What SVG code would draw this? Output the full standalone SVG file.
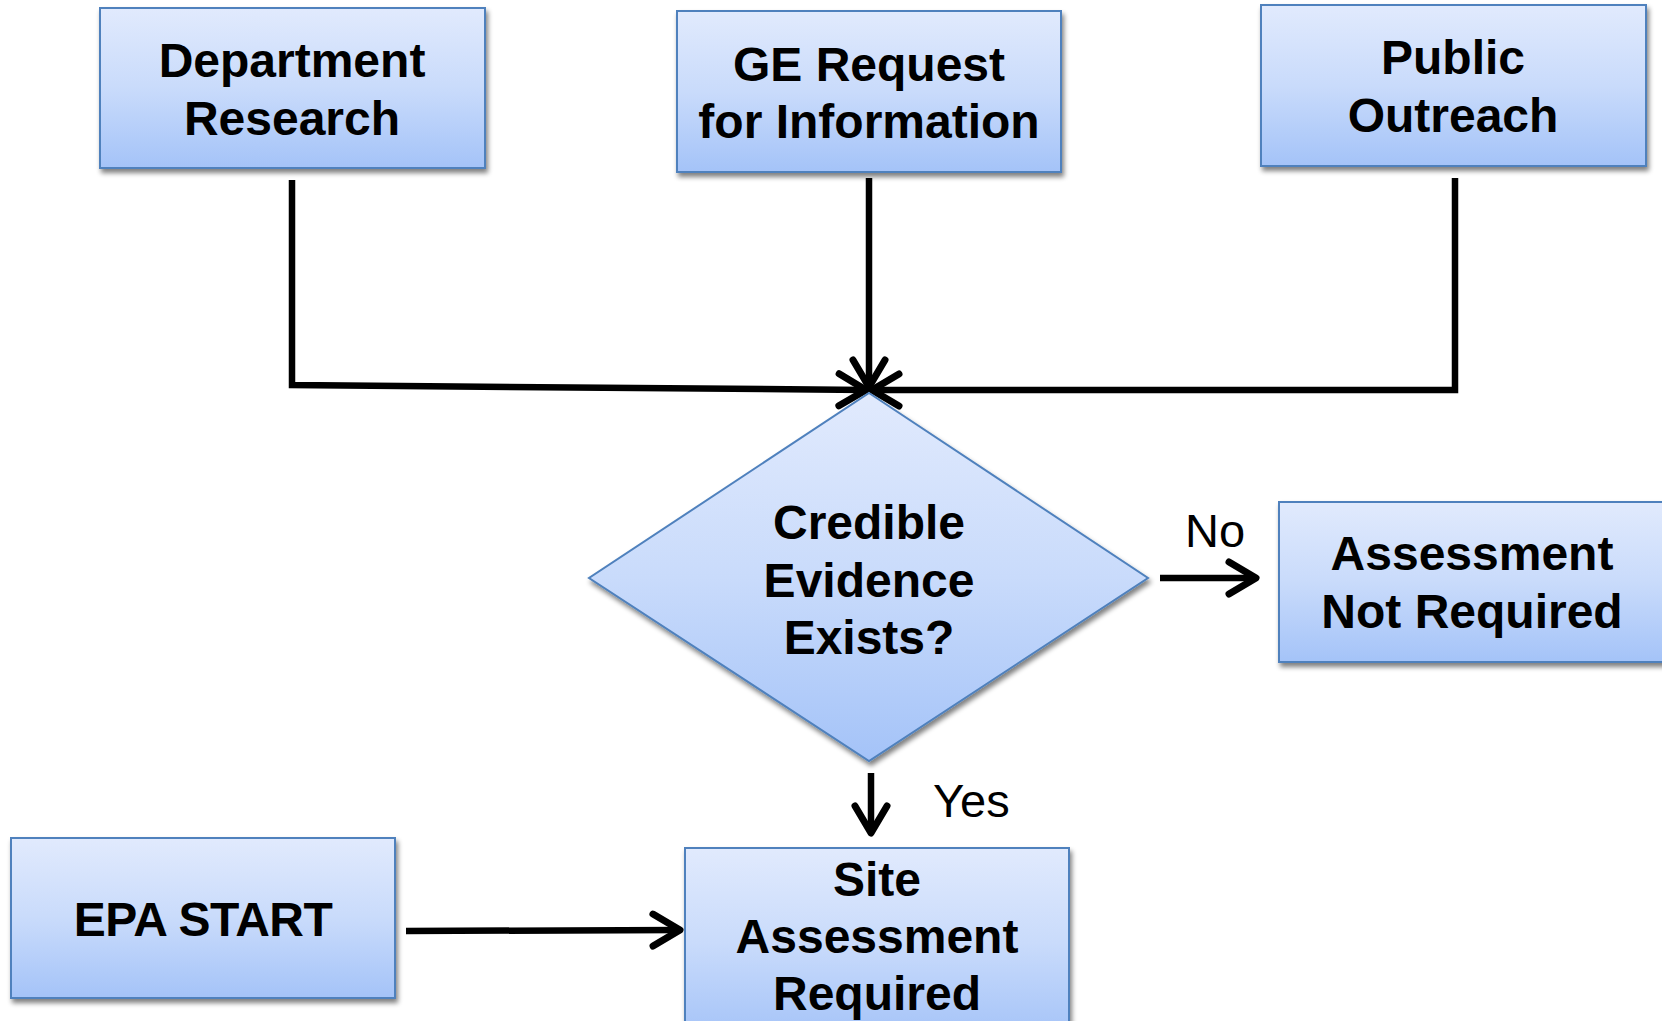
<svg xmlns="http://www.w3.org/2000/svg" width="1662" height="1021" viewBox="0 0 1662 1021">
  <defs>
    <linearGradient id="fillGrad" x1="0" y1="0" x2="0" y2="1">
      <stop offset="0" stop-color="#e1eafd"/>
      <stop offset="0.5" stop-color="#c9dbfb"/>
      <stop offset="1" stop-color="#a4c3f8"/>
    </linearGradient>
    <filter id="shadow" x="-10%" y="-10%" width="125%" height="130%">
      <feGaussianBlur in="SourceAlpha" stdDeviation="2.5"/>
      <feOffset dx="2" dy="4" result="off"/>
      <feComponentTransfer><feFuncA type="linear" slope="0.5"/></feComponentTransfer>
      <feMerge><feMergeNode/><feMergeNode in="SourceGraphic"/></feMerge>
    </filter>
    <marker id="head" markerUnits="userSpaceOnUse" viewBox="-36 -22 44 44" markerWidth="44" markerHeight="44" refX="0" refY="0" orient="auto">
      <path d="M-27,-16 L0,0 L-27,16" fill="none" stroke="#000" stroke-width="7" stroke-linecap="round" stroke-linejoin="round"/>
    </marker>
    <style>
      .box { fill: url(#fillGrad); stroke: #4f81bd; stroke-width: 2; filter: url(#shadow); }
      .lbl { font-family: "Liberation Sans", Arial, sans-serif; font-weight: bold; font-size: 48px; fill: #000; text-anchor: middle; }
      .edge { font-family: "Liberation Sans", Arial, sans-serif; font-size: 47px; fill: #000; }
      .wire { fill: none; stroke: #000; stroke-width: 6.5; stroke-linejoin: miter; }
      .arrow { marker-end: url(#head); }
    </style>
  </defs>
  <rect width="1662" height="1021" fill="#fff"/>

  <g id="connectors">
    <polyline class="wire arrow" points="292,180 292,385 866,390"/>
    <polyline class="wire arrow" points="869,178 869,387"/>
    <polyline class="wire arrow" points="1455,178 1455,390 872,390"/>
    <line class="wire arrow" x1="1160" y1="578" x2="1256" y2="578"/>
    <line class="wire arrow" x1="871" y1="773" x2="871" y2="833"/>
    <line class="wire arrow" x1="406" y1="931" x2="680" y2="930"/>
  </g>

  <g id="department-research">
    <rect class="box" x="100" y="8" width="385" height="160"/>
    <text class="lbl" x="292" y="77">Department</text>
    <text class="lbl" x="292" y="135">Research</text>
  </g>

  <g id="ge-request">
    <rect class="box" x="677" y="11" width="384" height="161"/>
    <text class="lbl" x="869" y="81">GE Request</text>
    <text class="lbl" x="869" y="138">for Information</text>
  </g>

  <g id="public-outreach">
    <rect class="box" x="1261" y="5" width="385" height="161"/>
    <text class="lbl" x="1453" y="74">Public</text>
    <text class="lbl" x="1453" y="132">Outreach</text>
  </g>

  <g id="credible-evidence">
    <polygon class="box" points="869,393 1148,578 869,761 589,578"/>
    <text class="lbl" x="869" y="539">Credible</text>
    <text class="lbl" x="869" y="597">Evidence</text>
    <text class="lbl" x="869" y="654">Exists?</text>
  </g>

  <g id="assessment-not-required">
    <rect class="box" x="1279" y="502" width="386" height="160"/>
    <text class="lbl" x="1472" y="570">Assessment</text>
    <text class="lbl" x="1472" y="628">Not Required</text>
  </g>

  <g id="epa-start">
    <rect class="box" x="11" y="838" width="384" height="160"/>
    <text class="lbl" x="203" y="936" letter-spacing="-0.5">EPA START</text>
  </g>

  <g id="site-assessment-required">
    <rect class="box" x="685" y="848" width="384" height="190"/>
    <text class="lbl" x="877" y="896">Site</text>
    <text class="lbl" x="877" y="953">Assessment</text>
    <text class="lbl" x="877" y="1010">Required</text>
  </g>

  <g id="edge-labels">
    <text class="edge" x="1185" y="547">No</text>
    <text class="edge" x="933" y="817">Yes</text>
  </g>
</svg>
